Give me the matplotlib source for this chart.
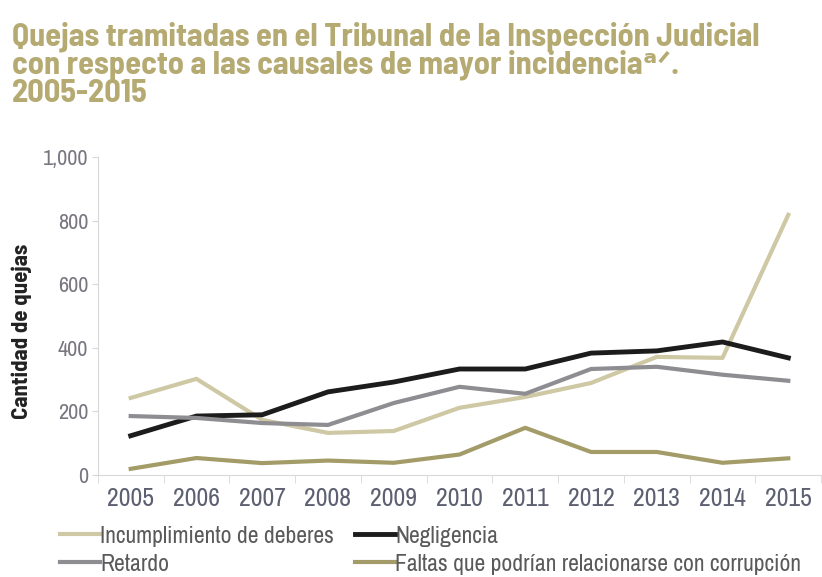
import numpy as np
import matplotlib
matplotlib.use("Agg")
import matplotlib.pyplot as plt

years = ["2005", "2006", "2007", "2008", "2009", "2010", "2011", "2012", "2013", "2014", "2015"]
incumplimiento = [242, 302, 173, 132, 138, 211, 245, 289, 371, 368, 818]
negligencia = [123, 185, 189, 261, 292, 333, 333, 383, 390, 418, 368]
retardo = [185, 179, 163, 157, 226, 277, 255, 333, 340, 315, 296]
faltas = [19, 53, 37, 45, 38, 64, 148, 72, 72, 38, 52]

names = ["Incumplimiento de deberes", "Negligencia", "Retardo",
         "Faltas que podrían relacionarse con corrupción"]
title_lines = ["Quejas tramitadas en el Tribunal de la Inspección Judicial",
               "con respecto a las causales de mayor incidencia\u1d43\u141f.",
               "2005-2015"]

plt.rcParams["font.family"] = ["Archivo Narrow", "DejaVu Sans"]
title_font = ["Barlow Semi Condensed", "DejaVu Sans"]

fig = plt.figure(figsize=(8.22, 5.77), dpi=100)
ax = fig.add_axes([0.119, 0.177, 0.880, 0.551])

x = np.arange(len(years))
l1, = ax.plot(x, incumplimiento, color="#cfc8a4", lw=3)
l2, = ax.plot(x, negligencia, color="#1c1c1c", lw=3.5)
l3, = ax.plot(x, retardo, color="#8e8e92", lw=3)
l4, = ax.plot(x, faltas, color="#a39c68", lw=3)

ax.set_xlim(-0.5, len(years) - 0.5)
ax.set_ylim(0, 1000)
ax.set_xticks(x)
ax.set_xticklabels(years)
ax.set_xticks(np.arange(-0.5, len(years)), minor=True)
ax.tick_params(axis="x", which="major", length=0, pad=9, labelsize=18.5, labelcolor="#5c6070")
ax.tick_params(axis="x", which="minor", length=6, color="#d8d8d8")
ax.set_yticks(np.arange(0, 1001, 200))
ax.set_yticklabels(["0", "200", "400", "600", "800", "1,000"])
ax.tick_params(axis="y", length=4, color="#d8d8d8", labelsize=16, labelcolor="#7a7680", pad=3)
for s in ["top", "right"]:
    ax.spines[s].set_visible(False)
for s in ["left", "bottom"]:
    ax.spines[s].set_color("#d8d8d8")

fig.text(22 / 822, 0.426, "Cantidad de quejas", rotation=90, ha="center", va="center",
         fontsize=16.5, fontweight="bold", color="#222222", family=["Barlow Semi Condensed", "DejaVu Sans"])

for txt, yb in zip(title_lines, [0.921, 0.872, 0.824]):
    fig.text(0.014, yb, txt, fontsize=23.3, fontweight="bold", color="#b5aa72",
             va="baseline", ha="left", family=title_font)

leg = fig.legend([l1, l3, l2, l4], [names[0], names[2], names[1], names[3]],
                 loc="lower left", bbox_to_anchor=(60 / 822, 0.004), ncol=2, frameon=False,
                 fontsize=17, handlelength=1.7, handletextpad=0.0, columnspacing=0.9,
                 labelspacing=0.3, borderpad=0, borderaxespad=0)
for t in leg.get_texts():
    t.set_color("#5a5a5a")

fig.savefig("out.png", dpi=100)
